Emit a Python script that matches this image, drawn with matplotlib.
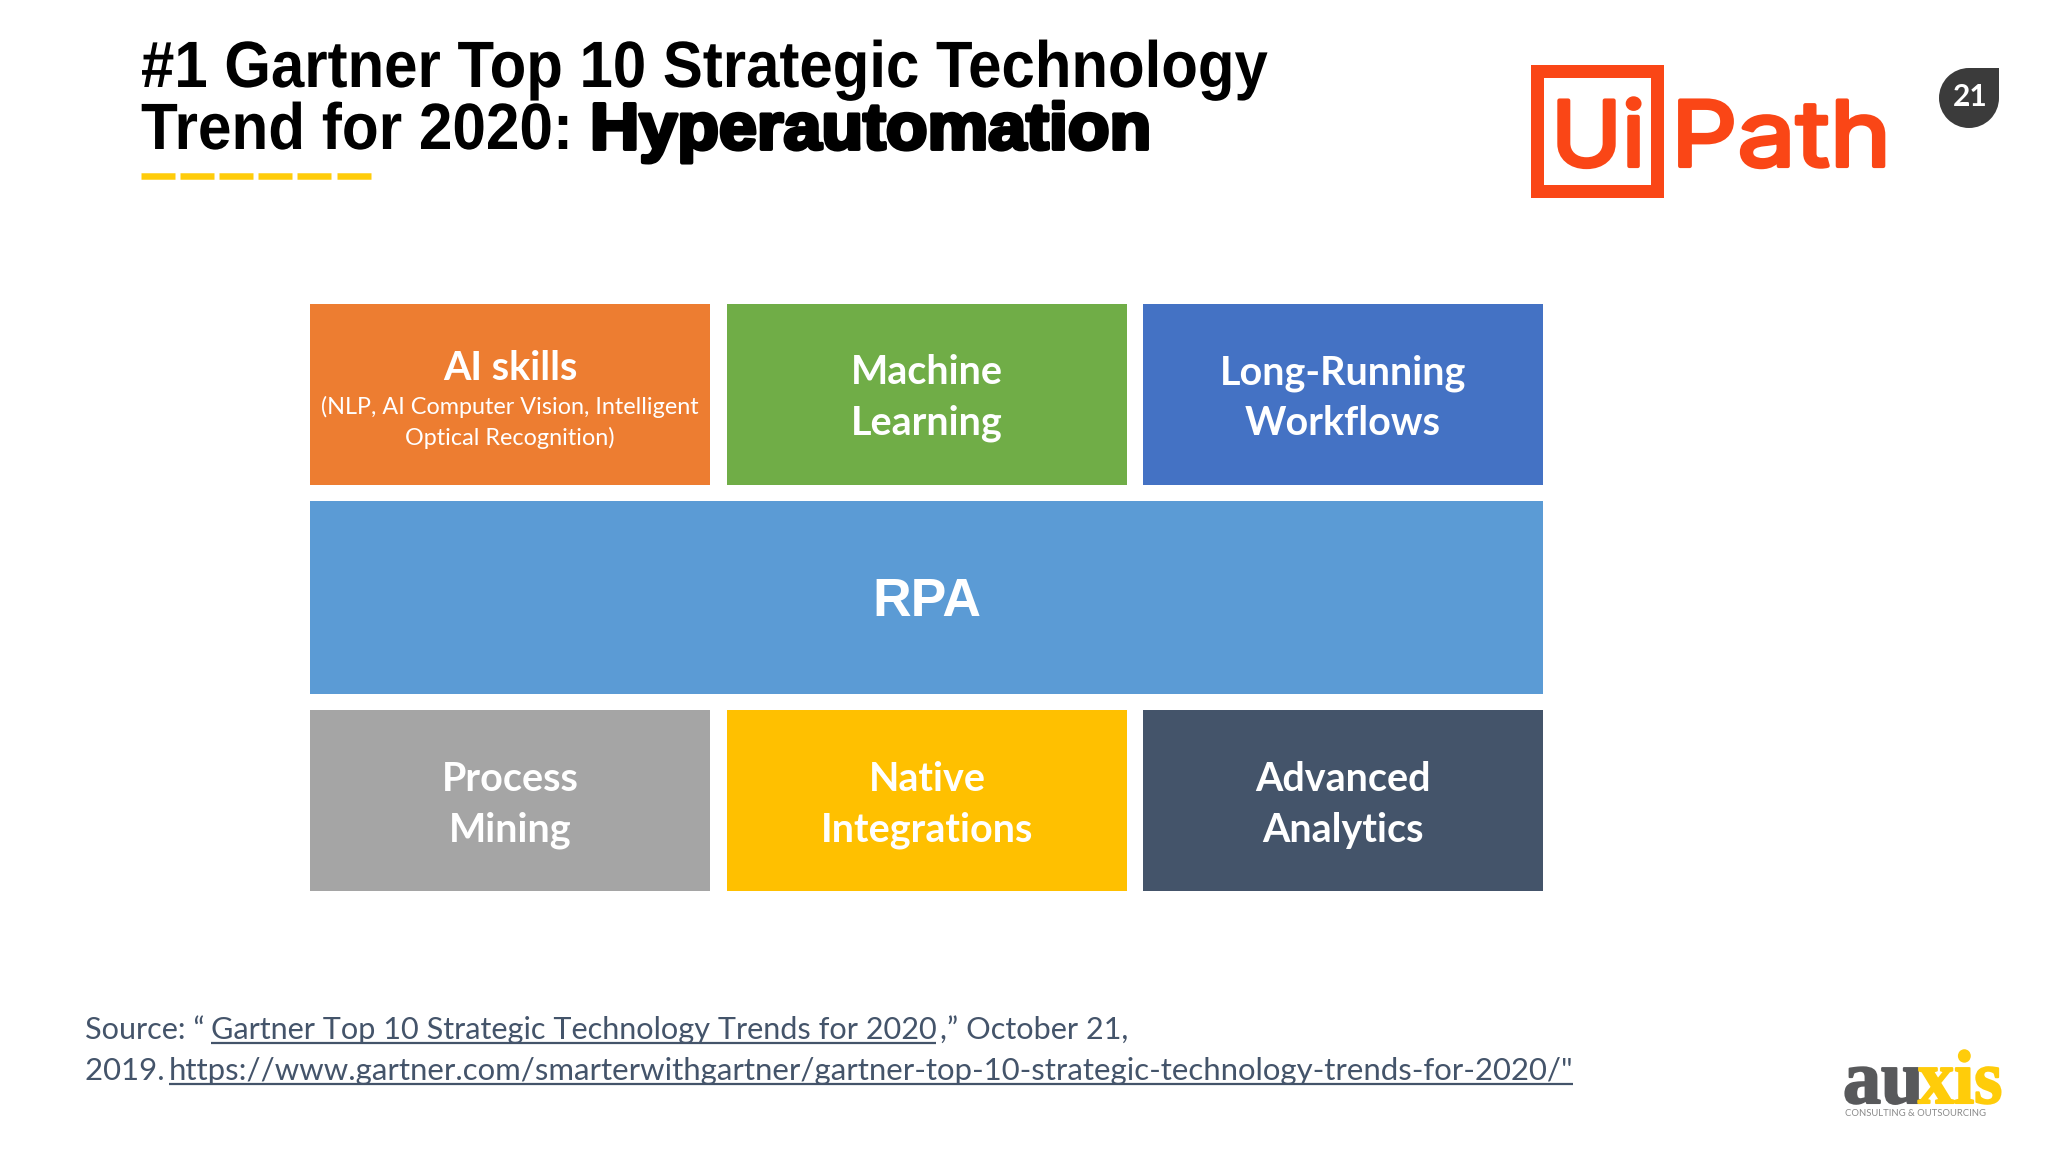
import matplotlib
matplotlib.use("Agg")
import matplotlib.pyplot as plt
import matplotlib.patheffects as pe
from matplotlib.patches import Rectangle, Circle
from matplotlib.transforms import Affine2D

DPI = 100
BODY = "Lato"
HEAD = "Liberation Sans"

# slide text
title_line1 = "#1 Gartner Top 10 Strategic Technology"
title_line2 = "Trend for 2020:"
title_bold = "Hyperautomation"
page_number = "21"

top_labels = ["AI skills", "Machine\nLearning", "Long-Running\nWorkflows"]
top_colors = ["#ED7D31", "#70AD47", "#4472C4"]
ai_note = "(NLP, AI Computer Vision, Intelligent\nOptical Recognition)"
middle_label = "RPA"
middle_color = "#5B9BD5"
bottom_labels = ["Process\nMining", "Native\nIntegrations", "Advanced\nAnalytics"]
bottom_colors = ["#A5A5A5", "#FFC000", "#44546A"]

source_parts = [("Source: \u201c", False), ("Gartner Top 10 Strategic Technology Trends for 2020", True),
                (",\u201d October 21,", False)]
source_parts2 = [("2019. ", False),
                 ("https://www.gartner.com/smarterwithgartner/gartner-top-10-strategic-technology-trends-for-2020/\"", True)]

fig = plt.figure(figsize=(20.48, 11.52), dpi=DPI, facecolor="white")
ax = fig.add_axes([0, 0, 1, 1])
ax.set_xlim(0, 2048)
ax.set_ylim(1152, 0)
ax.axis("off")


def pt(px):
    return px * 72 / DPI


class HScale(pe.AbstractPathEffect):
    # squeeze or widen glyphs around x0, the fonts here are not the slide's fonts
    def __init__(self, sx, x0, stroke=0):
        super().__init__()
        self.sx, self.x0, self.stroke = sx, x0, stroke

    def draw_path(self, renderer, gc, tpath, affine, rgbFace=None):
        aff = affine + Affine2D().translate(-self.x0, 0).scale(self.sx, 1).translate(self.x0, 0)
        if self.stroke:
            gc.set_linewidth(self.stroke)
            gc.set_foreground(rgbFace)
            gc.set_joinstyle("round")
        renderer.draw_path(gc, tpath, aff, rgbFace)


def run_text(x, y, parts, size, color, nudge):
    # draws pieces one after the other, underlining the linked ones
    rend = fig.canvas.get_renderer()
    for (s, under), dx in zip(parts, nudge):
        x += dx
        t = ax.text(x, y, s.replace(" ", "\u00a0"), fontsize=pt(size), color=color, family=BODY,
                    va="baseline", ha="left")
        w = t.get_window_extent(rend).width
        if under:
            ax.plot([x, x + w], [y + 4, y + 4], color=color, lw=1.6, solid_capstyle="butt")
        x += w


# title
ax.text(141, 87, title_line1, fontsize=pt(65.5), weight="bold", family=HEAD, color="black", va="baseline",
        path_effects=[HScale(0.915, 141)])
ax.text(141, 149, title_line2, fontsize=pt(65.5), weight="bold", family=HEAD, color="black",
        va="baseline", path_effects=[HScale(0.92, 141)])
ax.text(590, 149, title_bold, fontsize=pt(65.5), weight="bold", family=HEAD, color="black", va="baseline",
        path_effects=[HScale(1.042, 590, stroke=2.8)])
for i in range(6):
    ax.plot([141 + i * 39.1, 175 + i * 39.1], [176, 176], color="#FFCC0A", lw=pt(6.5), solid_capstyle="butt")

# uipath logo
orange = "#FA4616"
ax.add_patch(Rectangle((1537, 71), 120, 120, fill=False, ec=orange, lw=pt(13), joinstyle="miter"))
ax.text(1551, 166, "Ui", fontsize=pt(90), family="Inter", color=orange, va="baseline",
        path_effects=[HScale(1.06, 1551, stroke=3)])
ax.text(1671, 166, "Path", fontsize=pt(90), family="Inter", color=orange, va="baseline",
        path_effects=[HScale(1.155, 1671, stroke=3)])

# page badge
ax.add_patch(Circle((1969, 98), 30, color="#3B3B3B", lw=0))
ax.add_patch(Rectangle((1969, 68), 30, 30, color="#3B3B3B", lw=0))
ax.text(1970, 97, page_number, fontsize=pt(30), family=BODY, weight="bold", color="white", ha="center", va="center")

# boxes
cols = [310, 727, 1143]
box_w = 400
row_top, row_mid, row_bot = 304, 501, 710
row_h = 180.5
mid_h = 193
for x, label, color in zip(cols, top_labels, top_colors):
    ax.add_patch(Rectangle((x, row_top), box_w, row_h, color=color, lw=0))
    if label != "AI skills":
        ax.text(x + box_w / 2, row_top + row_h / 2 + 4, label, fontsize=pt(39.5), family=BODY, weight="bold",
                color="white", ha="center", va="center", linespacing=1.46)
ax.text(cols[0] + box_w / 2, 368, top_labels[0], fontsize=pt(39.5), family=BODY, weight="bold", color="white",
        ha="center", va="center")
ax.text(cols[0] + box_w / 2, 422.5, ai_note, fontsize=pt(23.4), family=BODY, color="white", ha="center", va="center",
        linespacing=1.5)

ax.add_patch(Rectangle((cols[0], row_mid), cols[2] + box_w - cols[0], mid_h, color=middle_color, lw=0))
ax.text(926.5, 602, middle_label, fontsize=pt(53.5), family=HEAD, weight="bold", color="white", ha="center", va="center")

for x, label, color in zip(cols, bottom_labels, bottom_colors):
    ax.add_patch(Rectangle((x, row_bot), box_w, row_h, color=color, lw=0))
    ax.text(x + box_w / 2, row_bot + row_h / 2 + 5, label, fontsize=pt(39.5), family=BODY, weight="bold",
            color="white", ha="center", va="center", linespacing=1.46)

# source
slate = "#44546A"
run_text(85, 1039, source_parts, 30.6, slate, [0, 6, 4])
run_text(85, 1080, source_parts2, 31.2, slate, [0, -4])

# auxis logo
ax.text(1843, 1103, "au", fontsize=pt(76), family="Liberation Serif", weight="bold", color="#58595B", va="baseline",
        path_effects=[HScale(1.0, 1843, stroke=1.5)])
ax.text(1918, 1103, "xis", fontsize=pt(76), family="Liberation Serif", weight="bold", color="#FFCC0A", va="baseline",
        path_effects=[HScale(0.95, 1918, stroke=1.5)])
ax.text(1845, 1114, "CONSULTING & OUTSOURCING", fontsize=pt(9.5), family=BODY, color="#8A8A8A", va="center")

fig.savefig("out.png", dpi=DPI, facecolor="white")
